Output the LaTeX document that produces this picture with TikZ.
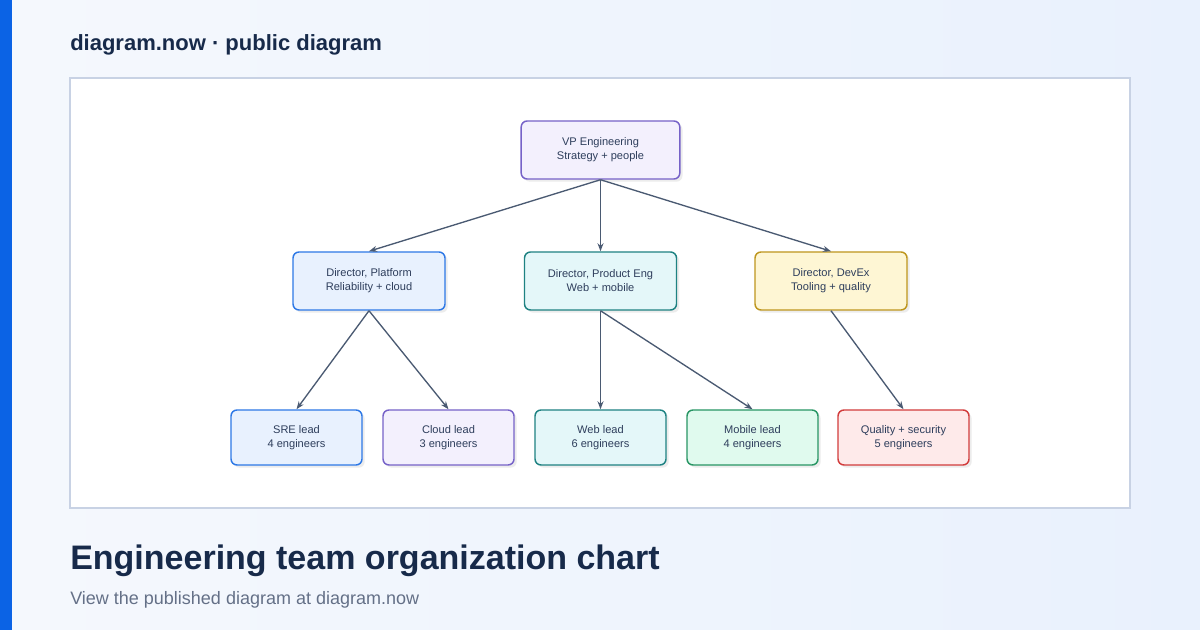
\documentclass[tikz,border=0pt]{standalone}
\usepackage{fontspec}
\setmainfont{Liberation Sans}
\usetikzlibrary{arrows.meta,shadows}
\definecolor{bgL}{HTML}{F5F8FD}
\definecolor{bgR}{HTML}{E9F1FD}
\definecolor{navy}{HTML}{172A4A}
\definecolor{txt}{HTML}{2E3E5C}
\definecolor{edge}{HTML}{4A5A72}
\tikzset{
  box/.style={draw, line width=1.1pt, rounded corners=4.5pt, align=center, font=\fontsize{8.3}{10.5}\selectfont, text=txt, inner sep=0pt,
    drop shadow={shadow xshift=2pt,shadow yshift=-2pt,opacity=0.15}},
  dir/.style={box, minimum width=114pt, minimum height=43.5pt},
  leaf/.style={box, minimum width=98.25pt, minimum height=41.25pt},
  conn/.style={draw=edge, line width=1pt, -{Stealth[length=6pt,width=4.5pt]}},
  txtnode/.style={anchor=west, inner sep=0pt},
}
\begin{document}
\begin{tikzpicture}[x=0.75pt,y=-0.75pt]
\useasboundingbox (0,0) rectangle (1200,630);
\shade[left color=bgL,right color=bgR] (0,0) rectangle (1200,630);
\fill[fill={rgb,255:red,11;green,99;blue,229}] (0,0) rectangle (12,630);
\node[txtnode,font=\fontsize{16.5}{20}\selectfont\bfseries,text=navy] (hdr) at (70,45) {diagram.now · public diagram};
\draw[draw={rgb,255:red,200;green,210;blue,228},line width=1pt,fill=white] (70,78) rectangle (1130,508);
\node[txtnode,font=\fontsize{25.5}{30}\selectfont\bfseries,text=navy] (ttl) at (70,561) {Engineering team organization chart};
\node[txtnode,font=\fontsize{13.5}{16}\selectfont,text={rgb,255:red,100;green,112;blue,135}] (sub) at (70,600) {View the published diagram at diagram.now};

\node[dir, draw={rgb,255:red,118;green,98;blue,200}, fill={rgb,255:red,243;green,240;blue,253}, minimum width=119pt] (vp) at (600.5,150) {VP Engineering\\Strategy + people};
\node[dir, draw={rgb,255:red,45;green,120;blue,230}, fill={rgb,255:red,232;green,241;blue,254}] (plat) at (369,281) {Director, Platform\\Reliability + cloud};
\node[dir, draw={rgb,255:red,30;green,130;blue,130}, fill={rgb,255:red,228;green,247;blue,249}] (prod) at (600.5,281) {Director, Product Eng\\Web + mobile};
\node[dir, draw={rgb,255:red,190;green,150;blue,30}, fill={rgb,255:red,254;green,246;blue,212}] (devx) at (831,281) {Director, DevEx\\Tooling + quality};

\node[leaf, draw={rgb,255:red,45;green,120;blue,230}, fill={rgb,255:red,232;green,241;blue,254}] (sre) at (296.5,437.5) {SRE lead\\4 engineers};
\node[leaf, draw={rgb,255:red,118;green,98;blue,200}, fill={rgb,255:red,243;green,240;blue,253}] (cloud) at (448.5,437.5) {Cloud lead\\3 engineers};
\node[leaf, draw={rgb,255:red,30;green,130;blue,130}, fill={rgb,255:red,228;green,247;blue,249}] (web) at (600.5,437.5) {Web lead\\6 engineers};
\node[leaf, draw={rgb,255:red,40;green,150;blue,100}, fill={rgb,255:red,224;green,250;blue,238}] (mob) at (752.5,437.5) {Mobile lead\\4 engineers};
\node[leaf, draw={rgb,255:red,210;green,60;blue,60}, fill={rgb,255:red,254;green,234;blue,234}] (qual) at (903.5,437.5) {Quality + security\\5 engineers};

\draw[conn] (vp.south) -- (plat.north);
\draw[conn] (vp.south) -- (prod.north);
\draw[conn] (vp.south) -- (devx.north);
\draw[conn] (plat.south) -- (sre.north);
\draw[conn] (plat.south) -- (cloud.north);
\draw[conn] (prod.south) -- (web.north);
\draw[conn] (prod.south) -- (mob.north);
\draw[conn] (devx.south) -- (qual.north);
\end{tikzpicture}
\end{document}
